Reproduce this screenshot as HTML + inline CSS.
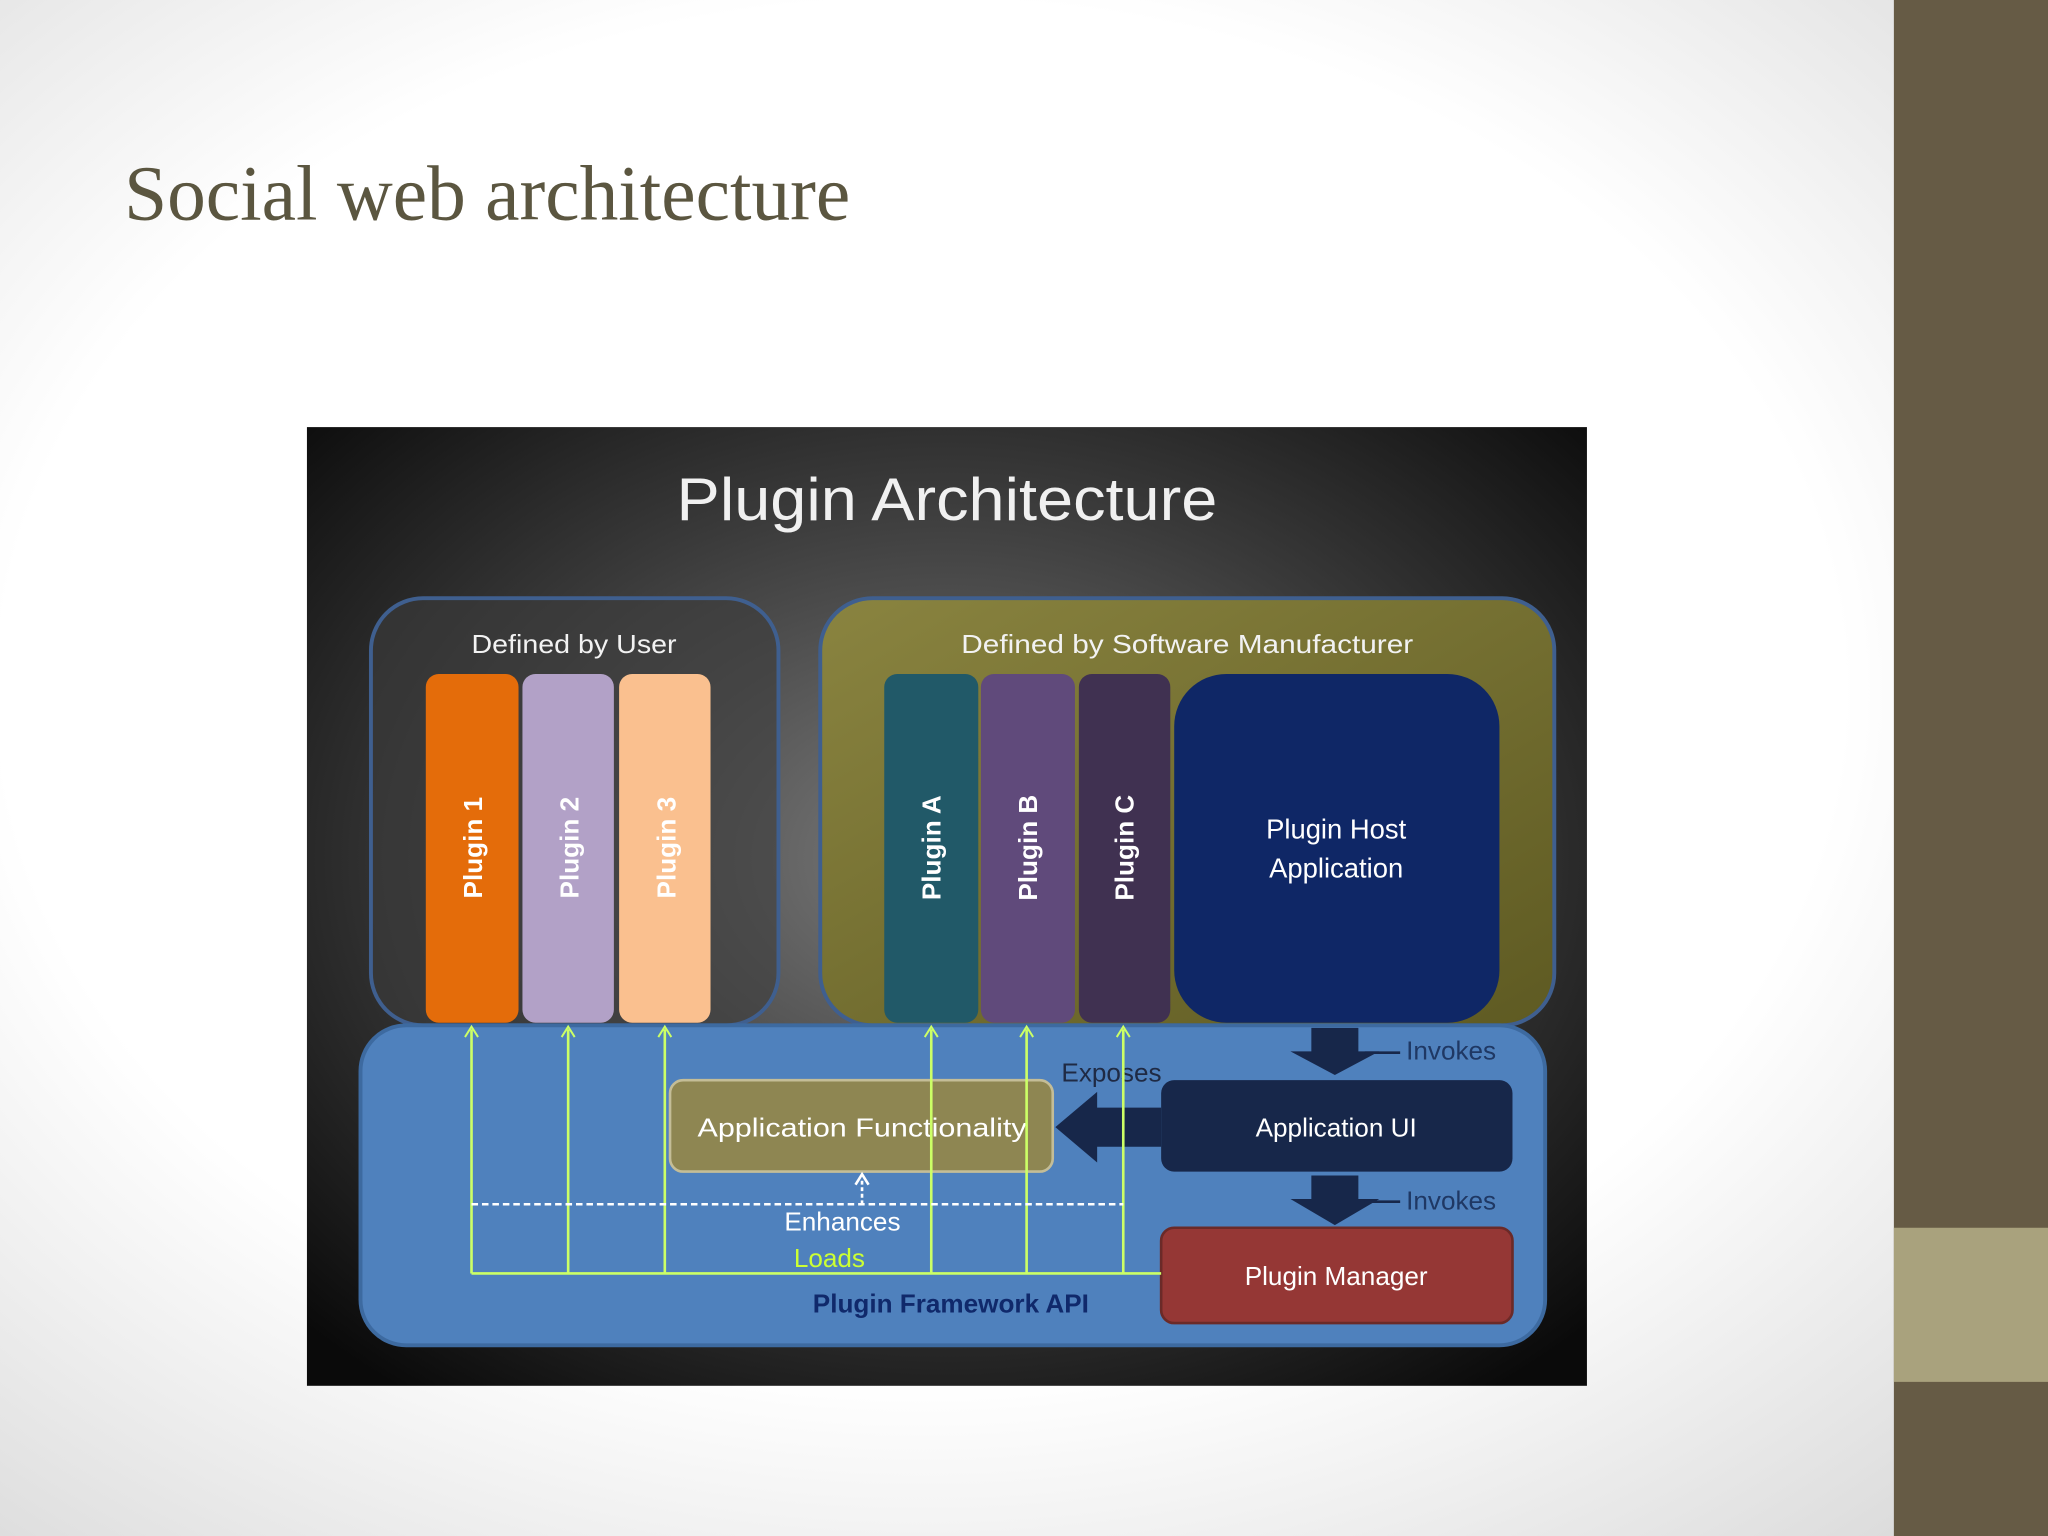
<!DOCTYPE html>
<html><head><meta charset="utf-8"><style>
html,body{margin:0;padding:0;width:2048px;height:1536px;overflow:hidden;background:#fff}
svg{display:block}
</style></head><body>
<svg width="2048" height="1536" viewBox="0 0 1568 1176" xmlns="http://www.w3.org/2000/svg" font-family="'Liberation Sans', sans-serif">
<defs>
<radialGradient id="bg" cx="0.45" cy="0.45" r="0.75">
<stop offset="0.6" stop-color="#ffffff"/><stop offset="1" stop-color="#d9d9d9"/>
</radialGradient>
<radialGradient id="dg" cx="0.5" cy="0.45" r="0.7">
<stop offset="0" stop-color="#7a7a7a"/><stop offset="0.55" stop-color="#3a3a3a"/><stop offset="1" stop-color="#0a0a0a"/>
</radialGradient>
<linearGradient id="ol" x1="0" y1="0" x2="1" y2="1">
<stop offset="0" stop-color="#8a8440"/><stop offset="1" stop-color="#5e5a22"/>
</linearGradient>
</defs>
<rect width="1568" height="1176" fill="url(#bg)"/>
<rect x="1450" y="0" width="118" height="1176" fill="#665b45"/>
<rect x="1450" y="940" width="118" height="118" fill="#a9a27d"/>
<text x="95" y="168" font-family="'Liberation Serif', serif" font-size="60" fill="#5b5640" textLength="556" lengthAdjust="spacingAndGlyphs">Social web architecture</text>

<rect x="235" y="327" width="980" height="734" fill="url(#dg)"/>
<text x="518" y="398" font-size="46" fill="#f0f0f0" textLength="414" lengthAdjust="spacingAndGlyphs">Plugin Architecture</text>

<rect x="284" y="458" width="312" height="327" rx="40" fill="#3c3c3c" fill-opacity="0.6" stroke="#3f5f8f" stroke-width="3"/>
<text x="361" y="500" font-size="20" fill="#f2f2f2" textLength="157" lengthAdjust="spacingAndGlyphs">Defined by User</text>
<rect x="628" y="458" width="562" height="327" rx="40" fill="url(#ol)" stroke="#3f5f8f" stroke-width="3"/>
<text x="736" y="500" font-size="20" fill="#f2f2f2" textLength="346" lengthAdjust="spacingAndGlyphs">Defined by Software Manufacturer</text>

<rect x="326" y="516" width="71" height="267" rx="10" fill="#e46c0a"/>
<rect x="400" y="516" width="70" height="267" rx="10" fill="#b2a1c7"/>
<rect x="474" y="516" width="70" height="267" rx="10" fill="#fac08f"/>
<rect x="677" y="516" width="72" height="267" rx="10" fill="#215968"/>
<rect x="751" y="516" width="72" height="267" rx="10" fill="#604a7b"/>
<rect x="826" y="516" width="70" height="267" rx="10" fill="#403151"/>
<rect x="899" y="516" width="249" height="267" rx="40" fill="#0f2766"/>
<g font-size="20" fill="#fff" font-weight="bold" text-anchor="middle">
<text transform="translate(369,649) rotate(-90)">Plugin 1</text>
<text transform="translate(443,649) rotate(-90)">Plugin 2</text>
<text transform="translate(517,649) rotate(-90)">Plugin 3</text>
<text transform="translate(720,649) rotate(-90)">Plugin A</text>
<text transform="translate(794,649) rotate(-90)">Plugin B</text>
<text transform="translate(868,649) rotate(-90)">Plugin C</text>
</g>
<text x="1023" y="642" font-size="21" fill="#fff" text-anchor="middle">Plugin Host</text>
<text x="1023" y="672" font-size="21" fill="#fff" text-anchor="middle">Application</text>

<rect x="276" y="785" width="907" height="245" rx="35" fill="#4f81bd" stroke="#3d6aa0" stroke-width="3"/>

<rect x="513" y="827" width="293" height="70" rx="10" fill="#8e8652" stroke="#c4bd97" stroke-width="2"/>
<text x="534" y="870" font-size="20" fill="#fff" textLength="252" lengthAdjust="spacingAndGlyphs">Application Functionality</text>
<rect x="889" y="827" width="269" height="70" rx="10" fill="#17274a"/>
<text x="1023" y="870" font-size="20" fill="#fff" text-anchor="middle">Application UI</text>
<rect x="889" y="940" width="269" height="73" rx="10" fill="#953735" stroke="#6b2a28" stroke-width="2"/>
<text x="1023" y="984" font-size="20" fill="#fff" text-anchor="middle">Plugin Manager</text>

<polygon points="1004,787 1040,787 1040,805 1056,805 1022,823 988,805 1004,805" fill="#17274a"/>
<polygon points="1004,900 1040,900 1040,918 1056,918 1022,938 988,918 1004,918" fill="#17274a"/>
<line x1="1045" y1="806" x2="1072" y2="806" stroke="#17274a" stroke-width="2"/>
<line x1="1045" y1="920" x2="1072" y2="920" stroke="#17274a" stroke-width="2"/>
<text x="1111" y="811" font-size="20" fill="#1f3864" text-anchor="middle">Invokes</text>
<text x="1111" y="926" font-size="20" fill="#1f3864" text-anchor="middle">Invokes</text>
<polygon points="889,848 840,848 840,836 808,863 840,890 840,878 889,878" fill="#17274a"/>
<text x="851" y="828" font-size="20" fill="#1f2a44" text-anchor="middle">Exposes</text>

<g stroke="#ccff66" stroke-width="2" fill="none">
<path d="M361 975 V788 M435 975 V788 M509 975 V788 M713 975 V788 M786 975 V788 M860 975 V788 M361 975 H889"/>
</g>
<g stroke="#ccff66" stroke-width="1.5" fill="none">
<path d="M356 794 L361 786 L366 794 M430 794 L435 786 L440 794 M504 794 L509 786 L514 794 M708 794 L713 786 L718 794 M781 794 L786 786 L791 794 M855 794 L860 786 L865 794"/>
</g>
<path d="M361 922 H860" stroke="#fff" stroke-width="2" stroke-dasharray="5 3"/>
<path d="M660 922 V902" stroke="#fff" stroke-width="2" stroke-dasharray="3 2"/>
<path d="M655 907 L660 899 L665 907" stroke="#fff" stroke-width="2" fill="none"/>
<text x="645" y="942" font-size="20" fill="#fff" text-anchor="middle">Enhances</text>
<text x="635" y="970" font-size="20" fill="#ccff33" text-anchor="middle">Loads</text>
<text x="728" y="1005" font-size="20" font-weight="bold" fill="#10296b" text-anchor="middle">Plugin Framework API</text>
</svg>
</body></html>
